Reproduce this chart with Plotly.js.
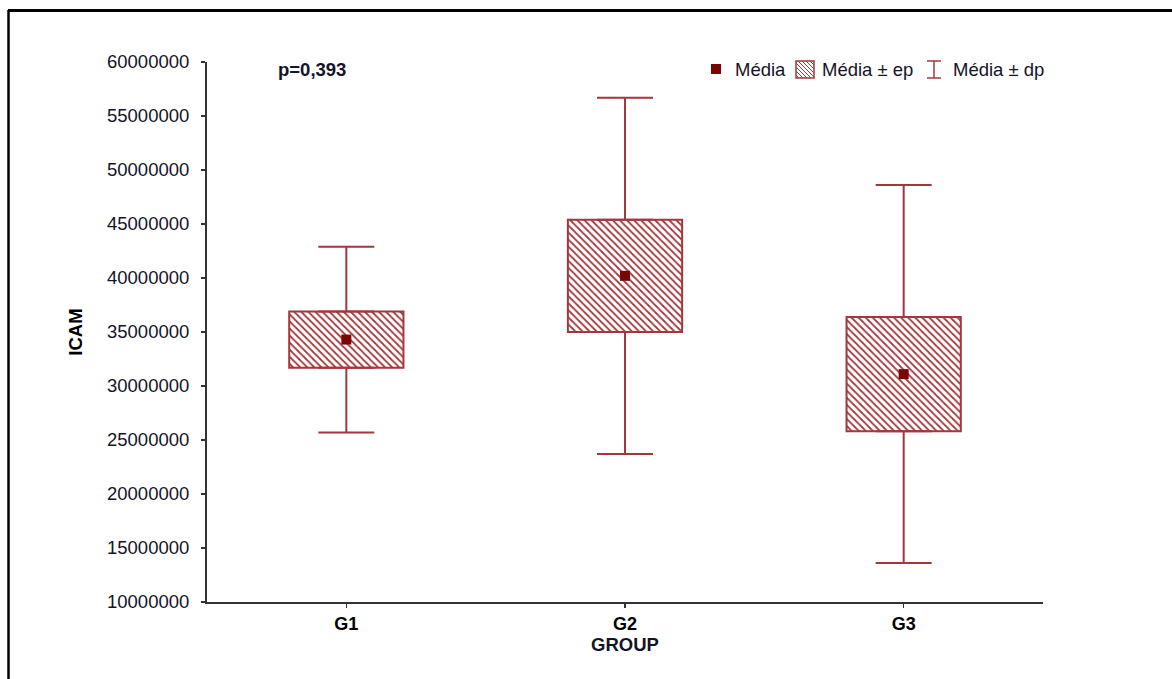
<!DOCTYPE html>
<html>
<head>
<meta charset="utf-8">
<script src="https://cdn.plot.ly/plotly-3.0.1.min.js"></script>
<style>html,body{margin:0;padding:0;background:#fff;}#chart{width:1172px;height:679px;}</style>
</head>
<body>
<div id="chart"></div>
<script>
// Data (ICAM by group)
var groups = ['G1', 'G2', 'G3'];
var means = [34300000, 40200000, 31100000];
var stdErr = [2600000, 5200000, 5300000];
var stdDev = [8600000, 16500000, 17500000];
var pText = 'p=0,393';
var legendLabels = ['Média', 'Média \u00b1 ep', 'Média \u00b1 dp'];

var W = 1172, H = 679;
var L = 207, R = 1043, T = 62, B = 602;
function px(x) { return (x - L) / (R - L); }
function py(y) { return (B - y) / (B - T); }

var red = '#a3373c';
var dark = '#7a0505';
var txt = '#141428';
var font = 'Liberation Sans, Arial, sans-serif';

var boxBase = means.map(function (m, i) { return m - stdErr[i]; });
var boxH = stdErr.map(function (e) { return 2 * e; });
var upTop = means.map(function (m, i) { return m + stdErr[i]; });
var upLen = stdDev.map(function (d, i) { return d - stdErr[i]; });
var zeros = means.map(function () { return 0; });

var traces = [
  {
    type: 'bar', x: groups, y: boxH, base: boxBase, width: 0.41,
    marker: {
      color: 'white',
      line: { color: red, width: 2 },
      pattern: { shape: '\\', fgcolor: red, bgcolor: 'white', size: 5, solidity: 0.35 }
    },
    showlegend: false, hoverinfo: 'skip'
  },
  {
    type: 'scatter', mode: 'markers', x: groups, y: upTop,
    marker: { size: 1, color: 'rgba(0,0,0,0)' },
    error_y: { type: 'data', symmetric: false, array: upLen, arrayminus: zeros, color: red, thickness: 2, width: 28 },
    showlegend: false, hoverinfo: 'skip'
  },
  {
    type: 'scatter', mode: 'markers', x: groups, y: boxBase,
    marker: { size: 1, color: 'rgba(0,0,0,0)' },
    error_y: { type: 'data', symmetric: false, array: zeros, arrayminus: upLen, color: red, thickness: 2, width: 28 },
    showlegend: false, hoverinfo: 'skip'
  },
  {
    type: 'scatter', mode: 'markers', x: groups, y: means,
    marker: { symbol: 'square', size: 10, color: dark },
    showlegend: false
  }
];

// manual legend
var ly = 69;
var shapes = [
  // outer frame (top and left)
  { type: 'line', xref: 'paper', yref: 'paper', x0: px(8), x1: px(W + 5), y0: py(10.5), y1: py(10.5), line: { color: '#000', width: 3 } },
  { type: 'line', xref: 'paper', yref: 'paper', x0: px(8.5), x1: px(8.5), y0: py(10), y1: py(H + 5), line: { color: '#000', width: 2.5 } },
  // legend: mean marker
  { type: 'rect', xref: 'paper', yref: 'paper', x0: px(711), x1: px(721), y0: py(64), y1: py(74), fillcolor: dark, line: { width: 0 } },
  // legend: hatched box
  { type: 'rect', xref: 'paper', yref: 'paper', x0: px(796), x1: px(814), y0: py(61), y1: py(78), fillcolor: 'white', line: { color: red, width: 1.5 } },
  // legend: I-beam
  { type: 'line', xref: 'paper', yref: 'paper', x0: px(934), x1: px(934), y0: py(61), y1: py(78), line: { color: red, width: 1.5 } },
  { type: 'line', xref: 'paper', yref: 'paper', x0: px(927), x1: px(941), y0: py(61), y1: py(61), line: { color: red, width: 1.5 } },
  { type: 'line', xref: 'paper', yref: 'paper', x0: px(927), x1: px(941), y0: py(78), y1: py(78), line: { color: red, width: 1.5 } }
];
// hatch lines inside the legend box
(function () {
  var x0 = 796, x1 = 814, y0 = 61, y1 = 78;
  for (var k = -y1 + y0 + 3; k < x1 - x0; k += 4) {
    var ax = x0 + Math.max(k, 0), ay = y0 + Math.max(-k, 0);
    var len = Math.min(x1 - ax, y1 - ay);
    shapes.push({ type: 'line', xref: 'paper', yref: 'paper', x0: px(ax), y0: py(ay), x1: px(ax + len), y1: py(ay + len), line: { color: red, width: 1 } });
  }
})();

var annotations = [
  { xref: 'paper', yref: 'paper', x: px(276), y: py(69), xanchor: 'left', yanchor: 'middle', showarrow: false, text: '<b>' + pText + '</b>', font: { family: font, size: 18.5, color: txt } },
  { xref: 'paper', yref: 'paper', x: px(733), y: py(ly), xanchor: 'left', yanchor: 'middle', showarrow: false, text: legendLabels[0], font: { family: font, size: 18.5, color: txt } },
  { xref: 'paper', yref: 'paper', x: px(820), y: py(ly), xanchor: 'left', yanchor: 'middle', showarrow: false, text: legendLabels[1], font: { family: font, size: 18.5, color: txt } },
  { xref: 'paper', yref: 'paper', x: px(951), y: py(ly), xanchor: 'left', yanchor: 'middle', showarrow: false, text: legendLabels[2], font: { family: font, size: 18.5, color: txt } }
];

var layout = {
  width: W, height: H,
  margin: { l: L, r: W - R, t: T, b: H - B, pad: 0 },
  paper_bgcolor: 'white', plot_bgcolor: 'white',
  showlegend: false,
  font: { family: font, size: 18, color: txt },
  xaxis: {
    type: 'category', categoryarray: groups, range: [-0.5, 2.5],
    showline: true, linecolor: '#333', linewidth: 2, showgrid: false, zeroline: false,
    ticks: 'outside', ticklen: 4, tickcolor: '#333', tickwidth: 1.5,
    tickfont: { family: font, size: 18, color: '#000', weight: 'bold' },
    ticklabelstandoff: 0,
    title: { text: '<b>GROUP</b>', font: { family: font, size: 18.5, color: txt }, standoff: 2 }
  },
  yaxis: {
    range: [10000000, 60000000], dtick: 5000000, tick0: 10000000, tickformat: 'd',
    showline: true, linecolor: '#333', linewidth: 2, showgrid: false, zeroline: false,
    ticks: 'outside', ticklen: 4, tickcolor: '#333', tickwidth: 1.5,
    tickfont: { family: font, size: 18.5, color: txt },
    ticklabelstandoff: 8,
    title: { text: '<b>ICAM</b>', font: { family: font, size: 18.5, color: '#000' }, standoff: 20 }
  },
  shapes: shapes,
  annotations: annotations
};

Plotly.newPlot('chart', traces, layout, { displayModeBar: false, staticPlot: true });
</script>
</body>
</html>
